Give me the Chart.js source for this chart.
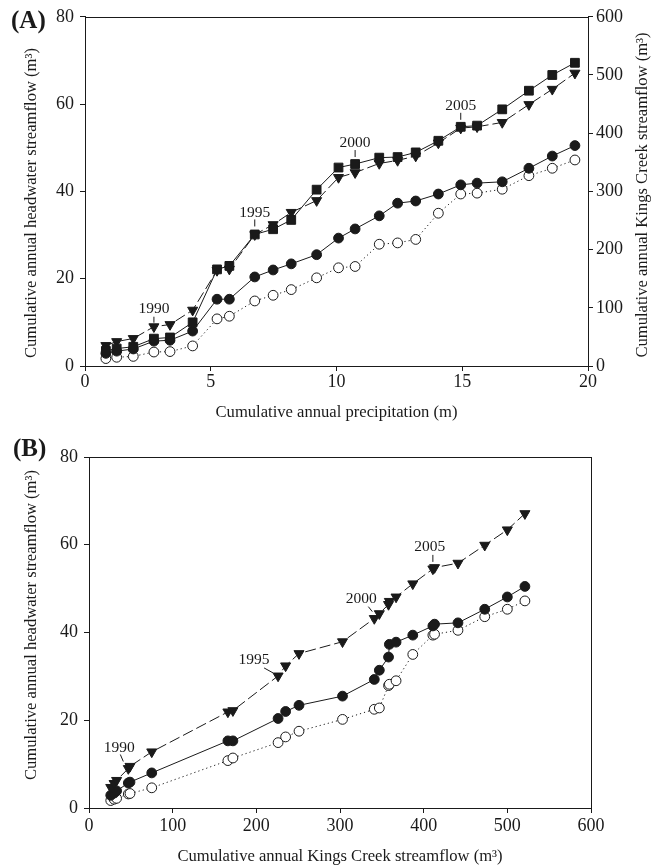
<!DOCTYPE html>
<html>
<head>
<meta charset="utf-8">
<script src="https://cdn.jsdelivr.net/npm/chart.js@4.4.1/dist/chart.umd.min.js"></script>
<style>
  html, body { margin: 0; padding: 0; background: #fff; }
  canvas { position: absolute; left: 0; }
  #chartA { top: 0; }
  #chartB { top: 432px; }
</style>
</head>
<body>
<canvas id="chartA" width="666" height="432"></canvas>
<canvas id="chartB" width="666" height="435"></canvas>
<script>
// one value per water year, 1987..2010
const years = [1987, 1988, 1989, 1990, 1991, 1992, 1993, 1994, 1995, 1996, 1997, 1998,
               1999, 2000, 2001, 2002, 2003, 2004, 2005, 2006, 2007, 2008, 2009, 2010];
const precip = [0.83, 1.26, 1.92, 2.74, 3.38, 4.28, 5.25, 5.74, 6.75, 7.48, 8.20, 9.21,
                10.08, 10.74, 11.70, 12.43, 13.15, 14.05, 14.94, 15.59, 16.59, 17.65, 18.58, 19.48];
const kingsCreek = [26, 30, 33, 47, 49, 75, 166, 172, 226, 235, 251, 303,
                    341, 347, 358, 359, 367, 387, 411, 413, 441, 473, 500, 521];
const hwTriangle = [4.7, 5.6, 6.3, 9.0, 9.5, 12.8, 21.9, 22.2, 30.1, 32.4, 35.2, 37.9,
                    43.2, 44.3, 46.4, 47.1, 48.1, 51.1, 54.5, 54.8, 55.8, 59.9, 63.4, 67.1];
const hwDot = [2.9, 3.4, 3.9, 5.7, 5.9, 8.0, 15.3, 15.3, 20.4, 22.0, 23.4, 25.5,
               29.3, 31.4, 34.4, 37.3, 37.8, 39.4, 41.5, 41.9, 42.2, 45.3, 48.1, 50.5];
const hwRing = [1.7, 2.0, 2.2, 3.2, 3.3, 4.6, 10.8, 11.4, 14.9, 16.2, 17.5, 20.2,
                22.5, 22.8, 27.9, 28.2, 29.0, 35.0, 39.4, 39.6, 40.5, 43.6, 45.3, 47.2];

const precipTicks = [0, 5, 10, 15, 20];
const headwaterTicks = [0, 20, 40, 60, 80];
const kingsTicks = [0, 100, 200, 300, 400, 500, 600];

const FONT = "'Liberation Serif', 'Times New Roman', serif";
const INK = '#1a1a1a';
const TITLE_SIZE = 16.6;

function pairs(xs, ys) {
    return xs.map((x, i) => ({ x: x, y: ys[i] }));
}

const styles = {
    square:   { pointStyle: 'rect', pointRadius: 6.2, backgroundColor: INK, borderDash: [] },
    triangle: { pointStyle: 'triangle', rotation: 180, pointRadius: 5.8, backgroundColor: INK, borderDash: [11, 4] },
    dot:      { pointStyle: 'circle', pointRadius: 4.9, backgroundColor: INK, borderDash: [] },
    ring:     { pointStyle: 'circle', pointRadius: 4.9, backgroundColor: '#fff', borderDash: [1.2, 3] }
};

function series(label, data, kind, yAxisID) {
    const s = styles[kind];
    return {
        label: label,
        data: data,
        yAxisID: yAxisID || 'y',
        showLine: true,
        borderColor: INK,
        borderWidth: 1,
        borderDash: s.borderDash,
        pointStyle: s.pointStyle,
        rotation: s.rotation || 0,
        pointRadius: s.pointRadius,
        pointBackgroundColor: s.backgroundColor,
        pointBorderColor: INK,
        pointBorderWidth: 1
    };
}

function axis(position, ticks, size, labelPad, title, titlePad) {
    return {
        type: 'linear',
        position: position,
        min: ticks[0],
        max: ticks[ticks.length - 1],
        afterBuildTicks: s => { s.ticks = ticks.map(v => ({ value: v })); },
        afterFit: s => { if (s.isHorizontal()) s.height = size; else s.width = size; },
        grid: { display: true, drawOnChartArea: false, drawTicks: true, tickLength: 5, color: INK, lineWidth: 1 },
        border: { display: true, color: INK, width: 1 },
        ticks: { color: INK, font: { family: FONT, size: 18 }, padding: labelPad, maxRotation: 0, autoSkip: false },
        title: title ? {
            display: true, text: title, color: INK,
            font: { family: FONT, size: TITLE_SIZE }, padding: titlePad
        } : { display: false }
    };
}

// frame, panel letter, vertical titles and year call-outs
const decorations = {
    id: 'decorations',
    afterDraw(chart, args, opts) {
        const ctx = chart.ctx;
        const a = chart.chartArea;
        ctx.save();
        ctx.strokeStyle = INK;
        ctx.lineWidth = 1;
        ctx.strokeRect(Math.round(a.left) + 0.5, Math.round(a.top) + 0.5,
                       Math.round(a.right - a.left), Math.round(a.bottom - a.top));

        ctx.fillStyle = INK;
        ctx.font = 'bold 25px ' + FONT;
        ctx.textAlign = 'left';
        ctx.textBaseline = 'middle';
        ctx.fillText(opts.panel.text, opts.panel.x, opts.panel.y);

        ctx.font = TITLE_SIZE + 'px ' + FONT;
        ctx.textAlign = 'center';
        opts.sideTitles.forEach(t => {
            ctx.save();
            ctx.translate(t.x, t.y);
            ctx.rotate(-Math.PI / 2);
            ctx.fillText(t.text, 0, 0);
            ctx.restore();
        });

        ctx.font = '15.5px ' + FONT;
        opts.marks.forEach(m => {
            const dsIndex = chart.data.datasets.findIndex(d => d.label === m.series);
            const pt = chart.getDatasetMeta(dsIndex).data[years.indexOf(m.year)];
            ctx.beginPath();
            ctx.moveTo(pt.x + m.line[0], pt.y + m.line[1]);
            ctx.lineTo(pt.x + m.line[2], pt.y + m.line[3]);
            ctx.stroke();
            ctx.fillText(String(m.year), pt.x + m.text[0], pt.y + m.text[1]);
        });
        ctx.restore();
    }
};

const headwaterTitle = 'Cumulative annual headwater streamflow (m\u00b3)';

new Chart(document.getElementById('chartA'), {
    type: 'scatter',
    data: {
        datasets: [
            series('Kings Creek', pairs(precip, kingsCreek), 'square', 'y2'),
            series('Headwater 1', pairs(precip, hwTriangle), 'triangle'),
            series('Headwater 2', pairs(precip, hwDot), 'dot'),
            series('Headwater 3', pairs(precip, hwRing), 'ring')
        ]
    },
    options: {
        responsive: false,
        animation: false,
        layout: { padding: { top: 15, right: 0, bottom: 0, left: 0 } },
        scales: {
            x: axis('bottom', precipTicks, 66, 0, 'Cumulative annual precipitation (m)', { top: 0, bottom: 9 }),
            y: axis('left', headwaterTicks, 85, 6),
            y2: axis('right', kingsTicks, 78, 3)
        },
        plugins: {
            legend: { display: false },
            tooltip: { enabled: false },
            decorations: {
                panel: { text: '(A)', x: 11, y: 22 },
                sideTitles: [
                    { text: headwaterTitle, x: 32, y: 203 },
                    { text: 'Cumulative annual Kings Creek streamflow (m\u00b3)', x: 643, y: 195 }
                ],
                marks: [
                    { year: 1990, series: 'Headwater 1', text: [0, -18], line: [0, -10, 0, -4] },
                    { year: 1995, series: 'Kings Creek', text: [0, -22], line: [0, -15, 0, -8] },
                    { year: 2000, series: 'Kings Creek', text: [0, -21], line: [0, -14, 0, -7] },
                    { year: 2005, series: 'Kings Creek', text: [0, -21], line: [0, -14, 0, -7] }
                ]
            }
        }
    },
    plugins: [decorations]
});

new Chart(document.getElementById('chartB'), {
    type: 'scatter',
    data: {
        datasets: [
            series('Headwater 1', pairs(kingsCreek, hwTriangle), 'triangle'),
            series('Headwater 2', pairs(kingsCreek, hwDot), 'dot'),
            series('Headwater 3', pairs(kingsCreek, hwRing), 'ring')
        ]
    },
    options: {
        responsive: false,
        animation: false,
        layout: { padding: { top: 25, right: 75, bottom: 0, left: 0 } },
        scales: {
            x: axis('bottom', kingsTicks, 59, 2, 'Cumulative annual Kings Creek streamflow (m\u00b3)', { top: 0, bottom: 0 }),
            y: axis('left', headwaterTicks, 89, 6)
        },
        plugins: {
            legend: { display: false },
            tooltip: { enabled: false },
            decorations: {
                panel: { text: '(B)', x: 13, y: 18 },
                sideTitles: [
                    { text: headwaterTitle, x: 32, y: 193 }
                ],
                marks: [
                    { year: 1990, series: 'Headwater 1', text: [-9, -21], line: [-8, -14, -5, -7] },
                    { year: 1995, series: 'Headwater 1', text: [-24, -16], line: [-14, -8, -5, -3] },
                    { year: 2000, series: 'Headwater 1', text: [-18, -15], line: [-11, -7, -7, -2] },
                    { year: 2005, series: 'Headwater 1', text: [-3, -22], line: [0, -14, 0, -7] }
                ]
            }
        }
    },
    plugins: [decorations]
});
</script>
</body>
</html>
